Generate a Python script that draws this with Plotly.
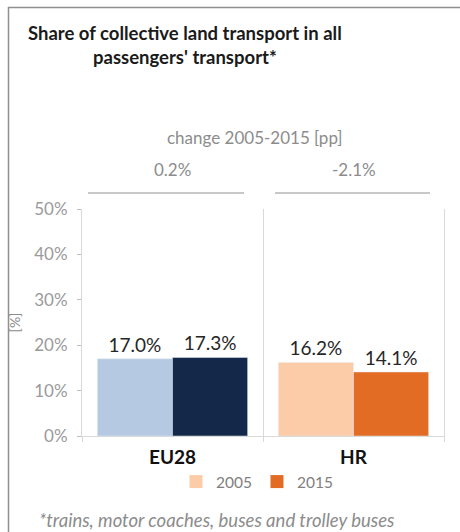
import plotly.graph_objects as go

categories = ["EU28", "HR"]
years = ["2005", "2015"]
values_2005 = [17.0, 16.2]
values_2015 = [17.3, 14.1]
changes = ["0.2%", "-2.1%"]
colors_2005 = ["#b6c9e2", "#fccca8"]
colors_2015 = ["#14284a", "#e36c25"]
legend_colors = ["#fccca8", "#e36c25"]
y_ticks = [0, 10, 20, 30, 40, 50]
y_ticktext = ["0%", "10%", "20%", "30%", "40%", "50%"]

FONT = "Lato, Open Sans, sans-serif"
GRAY = "#8c8c8c"

fig = go.Figure()
fig.add_trace(go.Bar(
    x=categories, y=values_2005, name=years[0], marker_color=colors_2005,
    text=[f"{v:.1f}%" for v in values_2005], textposition="outside",
    textfont=dict(size=19, color="#262626", family=FONT), showlegend=False,
    cliponaxis=False,
))
fig.add_trace(go.Bar(
    x=categories, y=values_2015, name=years[1], marker_color=colors_2015,
    text=[f"{v:.1f}%" for v in values_2015], textposition="outside",
    textfont=dict(size=19, color="#262626", family=FONT), showlegend=False,
    cliponaxis=False,
))
for yr, c in zip(years, legend_colors):
    fig.add_trace(go.Scatter(x=[None], y=[None], mode="markers", name=yr,
                             marker=dict(symbol="square", size=13, color=c), showlegend=True))

W, H = 460, 532
L, R, T, B = 82, 16, 209, 96
pw, ph = W - L - R, H - T - B

def px(x):
    return (x - L) / pw

def py(y):
    return (H - B - y) / ph

annotations = [
    dict(text="<b>Share of collective land transport in all<br>passengers' transport*</b>",
         x=px(185), y=py(45), xref="paper", yref="paper", xanchor="center", yanchor="middle",
         showarrow=False, font=dict(size=18.5, color="#1a1a1a", family=FONT), align="center"),
    dict(text="change 2005-2015 [pp]", x=px(255), y=py(137), xref="paper", yref="paper",
         xanchor="center", yanchor="middle", showarrow=False,
         font=dict(size=17, color=GRAY, family=FONT)),
    dict(text="<i>*trains, motor coaches, buses and trolley buses</i>", x=px(37), y=py(520),
         xref="paper", yref="paper", xanchor="left", yanchor="middle", showarrow=False,
         font=dict(size=18.5, color=GRAY, family=FONT)),
]
for i, ch in enumerate(changes):
    annotations.append(dict(text=ch, x=i, y=py(169), xref="x", yref="paper", showarrow=False,
                            xanchor="center", yanchor="middle",
                            font=dict(size=17, color=GRAY, family=FONT)))

shapes = [
    dict(type="line", xref="paper", yref="paper", x0=px(88), x1=px(244), y0=py(193), y1=py(193),
         line=dict(color="#c8c8c8", width=2)),
    dict(type="line", xref="paper", yref="paper", x0=px(275), x1=px(430), y0=py(193), y1=py(193),
         line=dict(color="#c8c8c8", width=2)),
    dict(type="line", xref="paper", yref="paper", x0=px(8.5), x1=px(8.5), y0=py(7), y1=py(532),
         line=dict(color="#909090", width=1.5)),
    dict(type="line", xref="paper", yref="paper", x0=px(8), x1=px(460), y0=py(7.5), y1=py(7.5),
         line=dict(color="#909090", width=1.5)),
]

fig.update_layout(
    width=W, height=H, margin=dict(l=L, r=R, t=T, b=B),
    paper_bgcolor="white", plot_bgcolor="white",
    barmode="group", bargap=0.17, bargroupgap=0,
    font=dict(family=FONT, color=GRAY),
    annotations=annotations, shapes=shapes,
    legend=dict(orientation="h", x=px(257), y=py(482), xanchor="center", yanchor="middle",
                font=dict(size=15.5, color="#808080", family=FONT), itemwidth=30,
                tracegroupgap=0),
)
fig.update_yaxes(range=[0, 50], tickvals=y_ticks, ticktext=y_ticktext, ticks="outside", ticklen=4,
                 tickcolor="#bfbfbf", showline=True, linecolor="#d9d9d9", mirror=True,
                 showgrid=False, zeroline=False, ticklabelstandoff=6,
                 tickfont=dict(size=17, color="#9a9a9a", family=FONT),
                 title=dict(text="[%]", font=dict(size=14, color=GRAY, family=FONT), standoff=10))
fig.update_xaxes(range=[-0.5, 1.5], tickson="boundaries", ticks="outside", ticklen=5,
                 tickcolor="#d9d9d9", showline=True, linecolor="#d9d9d9", showgrid=True,
                 gridcolor="#d9d9d9", tickfont=dict(size=19, color="#111111", family=FONT),
                 ticklabelstandoff=4,
                 tickvals=categories, ticktext=[f"<b>{c}</b>" for c in categories])

fig.write_html("out.html", config={"displayModeBar": False},
               post_script="document.body.style.margin='0';")
